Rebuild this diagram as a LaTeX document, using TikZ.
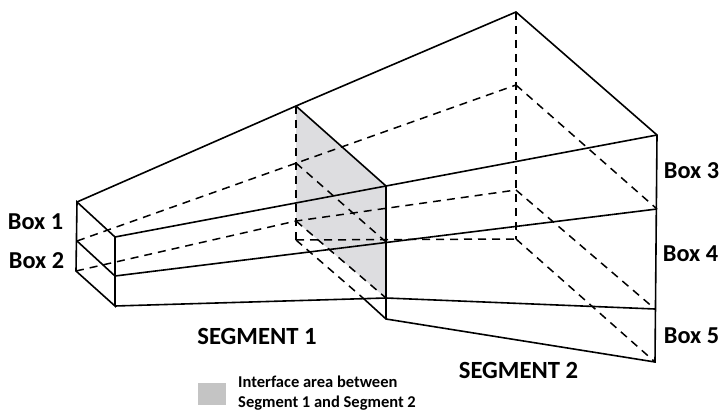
\documentclass[tikz,border=0pt]{standalone}
\usepackage{fontspec}
\setmainfont{Carlito}
\definecolor{iface}{RGB}{221,221,224}
\definecolor{legendgray}{RGB}{196,196,196}
\tikzset{
  solidline/.style={draw=black,line width=1.6pt,line join=miter},
  hidden/.style={draw=black,line width=1.5pt,dash pattern=on 8pt off 6pt},
  boxlabel/.style={font=\bfseries\fontsize{24.3}{26}\selectfont,inner sep=0pt},
  seglabel/.style={font=\bfseries\fontsize{24.7}{26}\selectfont,inner sep=0pt},
  legendtext/.style={font=\bfseries\fontsize{16.5}{20}\selectfont,inner sep=0pt,align=left,anchor=west}
}
\begin{document}
\begin{tikzpicture}[x=1pt,y=-1pt]
\useasboundingbox (0,0) rectangle (721,412);
% near-left end
\coordinate (a1) at (77,202);
\coordinate (a2) at (77,241);
\coordinate (a3) at (76,271);
\coordinate (b1) at (115,237);
\coordinate (b2) at (115,276);
\coordinate (b3) at (115,306);
% interface plane
\coordinate (c1) at (296,106);
\coordinate (c2) at (296,163);
\coordinate (c3) at (296,221);
\coordinate (c4) at (296,240);
\coordinate (d1) at (386,186);
\coordinate (d2) at (386,242);
\coordinate (d3) at (386,298);
\coordinate (d4) at (386,319);
\coordinate (dj) at (363,298);
% far end
\coordinate (e1) at (516,12);
\coordinate (e2) at (516,85);
\coordinate (e3) at (516,190);
\coordinate (e4) at (516,239);
\coordinate (f1) at (657,135);
\coordinate (f2) at (657,209);
\coordinate (f3) at (655,309);
\coordinate (f4) at (655,362);
% interface fill
\fill[iface] (c1) -- (d1) -- (d3) -- (c3) -- cycle;
% hidden edges
\draw[hidden] (c1) -- (c4);
\draw[hidden] (e1) -- (e4);
\draw[hidden] (a2) -- (e2);
\draw[hidden] (a3) -- (c3) -- (e3);
\draw[hidden] (c2) -- (d2);
\draw[hidden] (c3) -- (d3);
\draw[hidden] (e2) -- (f2);
\draw[hidden] (e3) -- (f3);
\draw[hidden] (e4) -- (f4);
\draw[hidden] (c4) -- (e4);
\draw[hidden] (c4) -- (dj);
% visible edges
\draw[solidline] (a1) -- (c1) -- (e1) -- (f1) -- (f4) -- (d4) -- (dj);
\draw[solidline] (a1) -- (a3) -- (b3) -- (b1) -- cycle;
\draw[solidline] (a2) -- (b2);
\draw[solidline] (b1) -- (f1);
\draw[solidline] (b2) -- (f2);
\draw[solidline] (b3) -- (d3) -- (f3);
\draw[solidline] (c1) -- (d1) -- (d4);
% labels
\node[boxlabel] (box1) at (35.5,222) {Box 1};
\node[boxlabel] (box2) at (36.5,261) {Box 2};
\node[boxlabel] (box3) at (691.5,171) {Box 3};
\node[boxlabel] (box4) at (690.5,254) {Box 4};
\node[boxlabel] (box5) at (691.5,336) {Box 5};
\node[seglabel] (seg1) at (257,336) {SEGMENT 1};
\node[seglabel] (seg2) at (518.5,370.5) {SEGMENT 2};
\node[fill=legendgray,minimum width=28pt,minimum height=22pt,inner sep=0pt] (legendswatch) at (212,394) {};
\node[legendtext] (legendlabel) at (238,393) {Interface area between\\Segment 1 and Segment 2};
\end{tikzpicture}
\end{document}
